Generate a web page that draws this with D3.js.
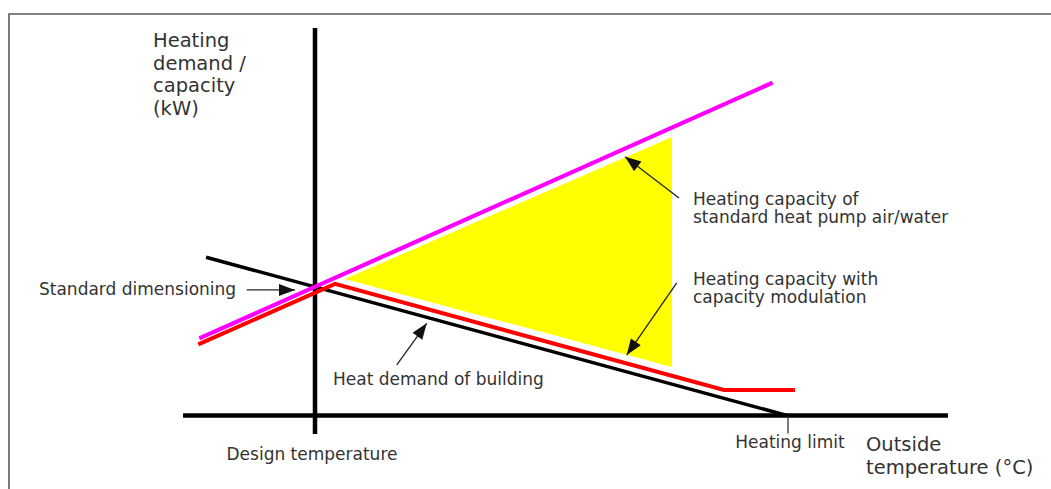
<!DOCTYPE html>
<html>
<head>
<meta charset="utf-8">
<script src="https://cdn.jsdelivr.net/npm/d3@7/dist/d3.min.js"></script>
<style>
  html, body { margin: 0; padding: 0; background: #fff; }
  svg { display: block; }
  text { font-family: "DejaVu Sans", Verdana, sans-serif; fill: #333; }
</style>
</head>
<body>
<svg id="chart" width="1051" height="489"></svg>
<script>
// ---- Data (outside temperature in °C, heating demand/capacity in kW; schematic) ----
const designTemperature = -10;
const heatingLimit = 15;
const axisTempRange = [-16.99, 23.53];
const axisKwRange = [-0.95, 20];

const heatDemand = [
  { t: -15.77, kw: 8.17 },
  { t: 15.0, kw: 0.0 }
];
const standardCapacity = [
  { t: -16.13, kw: 3.98 },
  { t: 14.24, kw: 17.18 }
];
const modulatedCapacity = [
  { t: -16.18, kw: 3.67 },
  { t: -8.94, kw: 6.79 },
  { t: 11.66, kw: 1.32 },
  { t: 15.42, kw: 1.32 }
];
const modulationArea = [
  { t: -8.41, kw: 7.05 },
  { t: 8.91, kw: 14.37 },
  { t: 8.91, kw: 2.5 }
];
// annotation arrows (from -> to, in data units)
const arrows = [
  { from: { t: -13.62, kw: 6.48 }, to: { t: -11.06, kw: 6.48 } },
  { from: { t: 9.28, kw: 11.23 }, to: { t: 6.42, kw: 13.36 } },
  { from: { t: 9.16, kw: 6.84 }, to: { t: 6.51, kw: 3.12 } },
  { from: { t: -5.67, kw: 2.61 }, to: { t: -4.08, kw: 4.76 } }
];
const yTitle = ["Heating", "demand /", "capacity", "(kW)"];
const xTitle = ["Outside", "temperature (°C)"];
const annotationTexts = [
  { lines: ["Standard dimensioning"] },
  { lines: ["Heating capacity of", "standard heat pump air/water"] },
  { lines: ["Heating capacity with", "capacity modulation"] },
  { lines: ["Heat demand of building"] },
  { lines: ["Design temperature"] },
  { lines: ["Heating limit"] }
];

// ---- Layout ----
const svg = d3.select("#chart");
const x = d3.scaleLinear().domain([designTemperature, heatingLimit]).range([315, 787]);
const y = d3.scaleLinear().domain([0, 20]).range([415.5, 28]);
const line = d3.line().x(d => x(d.t)).y(d => y(d.kw));

// frame
svg.append("path")
  .attr("d", "M9,489 L9,14 L1051,14")
  .attr("fill", "none").attr("stroke", "#5a5a5a").attr("stroke-width", 1.6);

// marker
svg.append("defs").append("marker")
  .attr("id", "ah").attr("markerUnits", "userSpaceOnUse")
  .attr("markerWidth", 18).attr("markerHeight", 14)
  .attr("viewBox", "0 -7 17 14").attr("refX", 16).attr("refY", 0)
  .attr("orient", "auto")
  .append("path").attr("d", "M0,-6 L16,0 L0,6 Z").attr("fill", "#111");

// yellow area
svg.append("path")
  .attr("d", line(modulationArea) + "Z")
  .attr("fill", "#ffff00");

// axes
svg.append("line")
  .attr("x1", x(axisTempRange[0])).attr("x2", x(axisTempRange[1]))
  .attr("y1", y(0)).attr("y2", y(0))
  .attr("stroke", "#000").attr("stroke-width", 4.5);
svg.append("line")
  .attr("x1", x(designTemperature)).attr("x2", x(designTemperature))
  .attr("y1", y(axisKwRange[1])).attr("y2", y(axisKwRange[0]))
  .attr("stroke", "#000").attr("stroke-width", 4.5);
// heating limit tick
svg.append("line")
  .attr("x1", x(heatingLimit) + 1).attr("x2", x(heatingLimit) + 1)
  .attr("y1", y(0) + 1).attr("y2", y(0) + 18)
  .attr("stroke", "#333").attr("stroke-width", 1.3);

// series lines
svg.append("path").attr("d", line(heatDemand))
  .attr("fill", "none").attr("stroke", "#000").attr("stroke-width", 3.5);
svg.append("path").attr("d", line(modulatedCapacity))
  .attr("fill", "none").attr("stroke", "#ff0000").attr("stroke-width", 4);
svg.append("path").attr("d", line(standardCapacity))
  .attr("fill", "none").attr("stroke", "#ff00ff").attr("stroke-width", 4.2);

// arrows
svg.selectAll(".arrow").data(arrows).join("line")
  .attr("class", "arrow")
  .attr("x1", d => x(d.from.t)).attr("y1", d => y(d.from.kw))
  .attr("x2", d => x(d.to.t)).attr("y2", d => y(d.to.kw))
  .attr("stroke", "#222").attr("stroke-width", 1.3)
  .attr("marker-end", "url(#ah)");

// text helper
function multiText(lines, px, py, size, lh, anchor) {
  const t = svg.append("text")
    .attr("x", px).attr("y", py)
    .attr("font-size", size)
    .attr("text-anchor", anchor || "start");
  lines.forEach((s, i) => {
    t.append("tspan").attr("x", px).attr("dy", i === 0 ? 0 : lh).text(s);
  });
  return t;
}

multiText(yTitle, 153, 47, 19.5, 22.5);
multiText(xTitle, 866, 451, 19.5, 22.5);

const annPos = [
  { x: 39, y: 295, anchor: "start" },
  { x: 693, y: 205, anchor: "start" },
  { x: 693, y: 285, anchor: "start" },
  { x: 333, y: 385, anchor: "start" },
  { x: 312, y: 460, anchor: "middle" },
  { x: 790, y: 448, anchor: "middle" }
];
annotationTexts.forEach((a, i) => {
  multiText(a.lines, annPos[i].x, annPos[i].y, 17, 18.3, annPos[i].anchor);
});
</script>
</body>
</html>
